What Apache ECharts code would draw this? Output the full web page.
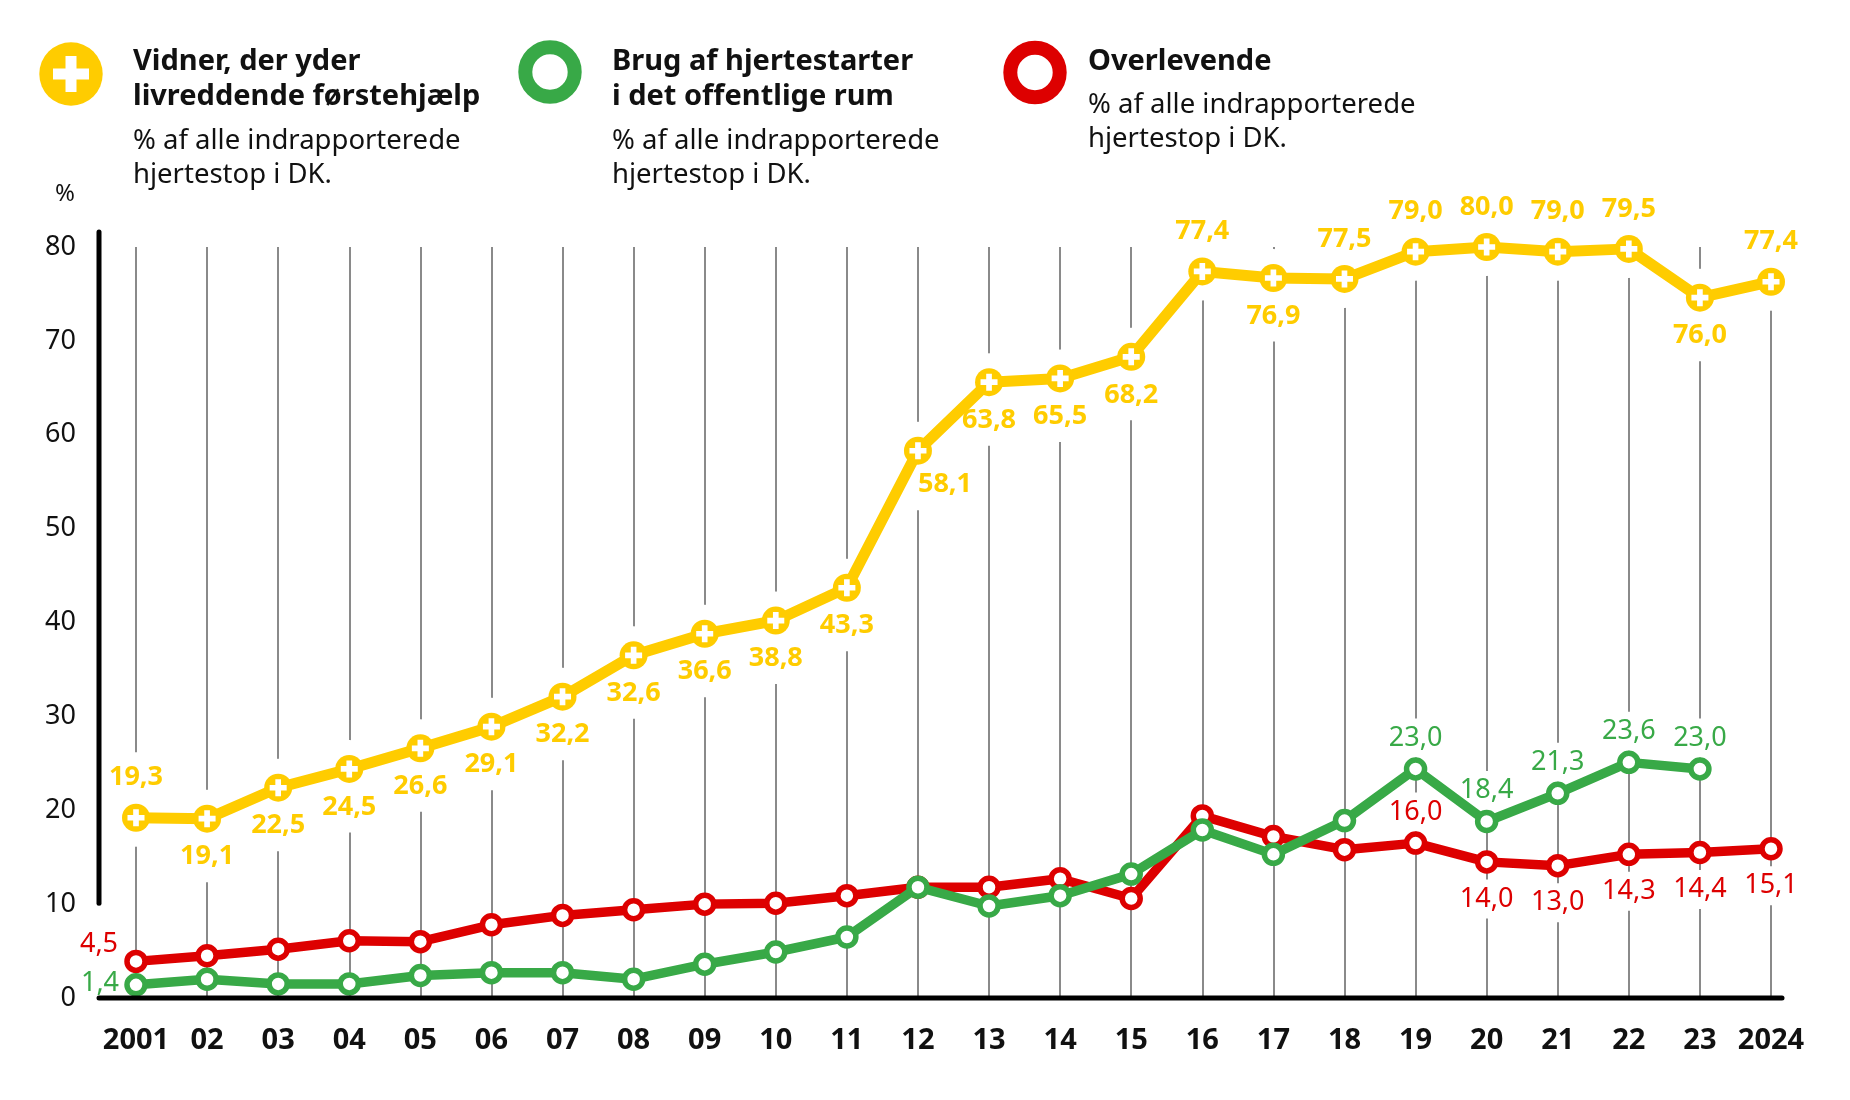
<!DOCTYPE html>
<html>
<head>
<meta charset="utf-8">
<script src="https://cdn.jsdelivr.net/npm/echarts@6/dist/echarts.min.js"></script>
<style>
html, body { margin: 0; padding: 0; background: #fff; }
#chart { width: 1850px; height: 1100px; }
</style>
</head>
<body>
<div id="chart"></div>
<script>
// år på x-aksen
const years = ["2001", "02", "03", "04", "05", "06", "07", "08", "09", "10", "11", "12",
    "13", "14", "15", "16", "17", "18", "19", "20", "21", "22", "23", "2024"];

// Vidner, der yder livreddende førstehjælp (punkt som tegnet / tal som skrevet)
const witnessValues = [19.2, 19.1, 22.4, 24.4, 26.6, 28.9, 32.1, 36.5, 38.8, 40.2, 43.7, 58.3,
    65.6, 66.0, 68.3, 77.4, 76.7, 76.6, 79.5, 80.0, 79.5, 79.8, 74.6, 76.3];
const witnessLabels = ["19,3", "19,1", "22,5", "24,5", "26,6", "29,1", "32,2", "32,6", "36,6", "38,8", "43,3", "58,1",
    "63,8", "65,5", "68,2", "77,4", "76,9", "77,5", "79,0", "80,0", "79,0", "79,5", "76,0", "77,4"];

// Brug af hjertestarter i det offentlige rum
const aedValues = [1.4, 2.0, 1.5, 1.5, 2.4, 2.7, 2.7, 2.0, 3.6, 4.9, 6.5, 11.8,
    9.8, 10.9, 13.2, 17.9, 15.3, 18.9, 24.4, 18.8, 21.8, 25.1, 24.4, null];
const aedLabels = ["1,4", null, null, null, null, null, null, null, null, null, null, null,
    null, null, null, null, null, null, "23,0", "18,4", "21,3", "23,6", "23,0", null];

// Overlevende
const survivorValues = [3.9, 4.5, 5.2, 6.1, 6.0, 7.8, 8.8, 9.4, 10.0, 10.1, 10.9, 11.8,
    11.8, 12.7, 10.6, 19.4, 17.2, 15.8, 16.5, 14.5, 14.1, 15.3, 15.5, 15.9];
const survivorLabels = ["4,5", null, null, null, null, null, null, null, null, null, null, null,
    null, null, null, null, null, null, "16,0", "14,0", "13,0", "14,3", "14,4", "15,1"];

const YELLOW = "#ffcc00";
const GREEN = "#38a947";
const RED = "#dd0000";
const INK = "#111";
const FONT = "Noto Sans";
const CLEAR = "rgba(0,0,0,0)";

// hvilke gule tal står over punktet
const witnessAbove = [0, 15, 17, 18, 19, 20, 21, 23];

function witnessOffset(i) {
    if (i === 11) return [27, 34];
    return witnessAbove.indexOf(i) >= 0 ? [0, -40] : [0, 38];
}
function survivorOffset(i) {
    if (i === 0) return [-37, -17];
    if (i === 18) return [0, -31];
    return [0, 37];
}
function aedOffset(i) {
    if (i === 0) return [-36, -2];
    return [0, -31];
}

const plusPath = "path://M4,0 L8,0 L8,4 L12,4 L12,8 L8,8 L8,12 L4,12 L4,8 L0,8 L0,4 L4,4 Z";

// bg = true giver kun den hvide plet bag tallet (tegnes under linjerne)
function labelled(values, labels, offsetFn, color, weight, bg, pad) {
    return values.map(function (v, i) {
        const txt = labels[i];
        const label = {
            show: !!txt,
            position: "inside",
            offset: offsetFn(i),
            formatter: txt || "",
            color: bg ? CLEAR : color,
            fontFamily: FONT,
            fontWeight: weight,
            fontSize: 27
        };
        if (bg) {
            label.backgroundColor = "#fff";
            label.padding = pad;
        }
        return { value: v, label: label };
    });
}

function backdrop(values, labels, offsetFn, weight, pad, size) {
    return {
        type: "line",
        data: labelled(values, labels, offsetFn, null, weight, true, pad),
        symbol: "circle",
        symbolSize: size,
        itemStyle: { color: size > 1 ? "#fff" : CLEAR },
        lineStyle: { width: 0, opacity: 0 },
        silent: true,
        z: 2
    };
}

const chart = echarts.init(document.getElementById("chart"));

const headStyle = { fontFamily: FONT, fontSize: 29, fontWeight: "bold", fill: INK, lineHeight: 35, verticalAlign: "top" };
const subStyle = { fontFamily: FONT, fontSize: 27.5, fontWeight: "normal", fill: INK, lineHeight: 34, verticalAlign: "top" };

function txt(x, y, text, base) {
    return { type: "text", x: x, y: y, style: Object.assign({ text: text }, base) };
}

chart.setOption({
    animation: false,
    backgroundColor: "#fff",
    grid: { left: 136, right: 79, top: 247, bottom: 102 },
    xAxis: {
        type: "category",
        data: years,
        boundaryGap: false,
        axisLine: { show: false },
        axisTick: { show: false },
        axisLabel: {
            interval: 0,
            margin: 28,
            color: INK,
            fontFamily: FONT,
            fontWeight: "bold",
            fontSize: 29
        },
        splitLine: {
            show: true,
            interval: 0,
            lineStyle: { color: "#8a8a8a", width: 2 }
        }
    },
    yAxis: {
        type: "value",
        min: 0,
        max: 80,
        interval: 10,
        axisLine: { show: false },
        axisTick: { show: false },
        splitLine: { show: false },
        axisLabel: {
            margin: 60,
            color: INK,
            fontFamily: FONT,
            fontSize: 27
        }
    },
    series: [
        backdrop(witnessValues, witnessLabels, witnessOffset, "bold", [12, 4], 58),
        backdrop(survivorValues, survivorLabels, survivorOffset, "normal", [6, 2], 1),
        backdrop(aedValues, aedLabels, aedOffset, "normal", [6, 2], 1),
        {
            name: "Overlevende",
            type: "line",
            data: labelled(survivorValues, survivorLabels, survivorOffset, RED, "normal", false),
            symbol: "circle",
            symbolSize: 18,
            itemStyle: { color: "#fff", borderColor: RED, borderWidth: 5.5 },
            lineStyle: { color: RED, width: 9.5 },
            z: 3
        },
        {
            name: "Brug af hjertestarter",
            type: "line",
            data: labelled(aedValues, aedLabels, aedOffset, GREEN, "normal", false),
            symbol: "circle",
            symbolSize: 18,
            itemStyle: { color: "#fff", borderColor: GREEN, borderWidth: 5.5 },
            lineStyle: { color: GREEN, width: 9.5 },
            z: 4
        },
        {
            name: "Vidner",
            type: "line",
            data: labelled(witnessValues, witnessLabels, witnessOffset, YELLOW, "bold", false),
            symbol: "circle",
            symbolSize: 28,
            itemStyle: { color: YELLOW },
            lineStyle: { color: YELLOW, width: 11 },
            z: 5
        },
        {
            // hvide kryds i de gule punkter
            name: "kryds",
            type: "line",
            data: witnessValues,
            symbol: plusPath,
            symbolSize: 17,
            itemStyle: { color: "#fff" },
            lineStyle: { width: 0, opacity: 0 },
            silent: true,
            z: 6
        }
    ],
    graphic: [
        { type: "circle", shape: { cx: 71, cy: 74, r: 31.7 }, style: { fill: YELLOW } },
        { type: "rect", shape: { x: 53, y: 68.5, width: 36, height: 11 }, style: { fill: "#fff" } },
        { type: "rect", shape: { x: 65.5, y: 56, width: 11, height: 36 }, style: { fill: "#fff" } },
        txt(133, 44.5, "Vidner, der yder\nlivreddende førstehjælp", headStyle),
        txt(133, 124, "% af alle indrapporterede\nhjertestop i DK.", subStyle),

        { type: "circle", shape: { cx: 550, cy: 72, r: 24.7 }, style: { fill: "none", stroke: GREEN, lineWidth: 14 } },
        txt(612, 44.5, "Brug af hjertestarter\ni det offentlige rum", headStyle),
        txt(612, 124, "% af alle indrapporterede\nhjertestop i DK.", subStyle),

        { type: "circle", shape: { cx: 1035, cy: 72.5, r: 24.7 }, style: { fill: "none", stroke: RED, lineWidth: 14 } },
        txt(1088, 44.5, "Overlevende", headStyle),
        txt(1088, 88.5, "% af alle indrapporterede\nhjertestop i DK.", subStyle),

        { type: "text", x: 65, y: 194, style: { text: "%", fontFamily: FONT, fontSize: 24, fill: INK, align: "center", verticalAlign: "middle" } }
    ]
});

// aksestreger: lodret stopper ved 10, vandret går lidt forbi sidste år
const x0 = chart.convertToPixel({ xAxisIndex: 0 }, years[0]) - 37;
const xEnd = chart.convertToPixel({ xAxisIndex: 0 }, years[years.length - 1]) + 11;
const yTop = chart.convertToPixel({ yAxisIndex: 0 }, 81.6);
const yTen = chart.convertToPixel({ yAxisIndex: 0 }, 10.1);
const yZero = chart.convertToPixel({ yAxisIndex: 0 }, 0);

chart.setOption({
    graphic: [
        { id: "yline", type: "line", z: 10, shape: { x1: x0, y1: yTop, x2: x0, y2: yTen }, style: { stroke: "#000", lineWidth: 5, lineCap: "round" } },
        { id: "xline", type: "line", z: 10, shape: { x1: x0, y1: yZero, x2: xEnd, y2: yZero }, style: { stroke: "#000", lineWidth: 5, lineCap: "round" } }
    ]
});
</script>
</body>
</html>
